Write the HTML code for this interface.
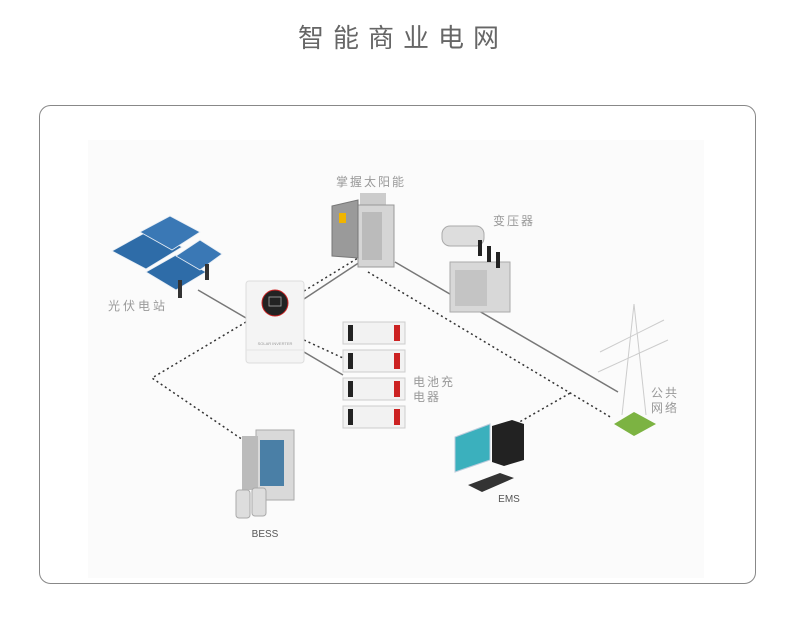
<!DOCTYPE html>
<html><head><meta charset="utf-8"><style>
body{margin:0;background:#fff;width:800px;height:623px;overflow:hidden;font-family:"Liberation Sans","Noto Sans CJK SC",sans-serif}
</style></head><body>
<svg width="800" height="623" viewBox="0 0 800 623" xmlns="http://www.w3.org/2000/svg" font-family="Liberation Sans, Noto Sans CJK SC, sans-serif">
<text x="403" y="47" text-anchor="middle" font-size="26" fill="#666" letter-spacing="9">智能商业电网</text>
<rect x="39.5" y="105.5" width="716" height="478" rx="11" fill="#fff" stroke="#888"/>
<rect x="88" y="140" width="616" height="438" fill="#fbfbfb"/>
<g stroke="#777" stroke-width="1.5" fill="none">
<line x1="198" y1="290" x2="246" y2="318"/>
<line x1="304" y1="299" x2="360" y2="262"/>
<line x1="304" y1="352" x2="343" y2="375"/>
<line x1="395" y1="262" x2="618" y2="392"/>
</g>
<g stroke="#333" stroke-width="1.5" fill="none" stroke-dasharray="2,3">
<polyline points="304,291 358,258"/>
<polyline points="246,322 152,378 246,442"/>
<polyline points="368,272 612,418"/>
<polyline points="304,340 343,358"/>
<polyline points="516,424 572,392"/>
</g>
<g stroke="#e8eef5" stroke-width="0.8">
<polygon points="112,251 150,230 182,247 146,269" fill="#2e6ca8"/>
<polygon points="140,232 170,216 200,232 172,250" fill="#3a78b5"/>
<polygon points="146,272 176,255 206,272 176,290" fill="#2e6ca8"/>
<polygon points="176,256 200,240 222,254 200,270" fill="#3a78b5"/>
</g>
<rect x="178" y="280" width="4" height="18" fill="#333"/>
<rect x="205" y="264" width="4" height="16" fill="#333"/>
<text x="138" y="310" text-anchor="middle" font-size="12" fill="#999" letter-spacing="3">光伏电站</text>
<rect x="246" y="281" width="58" height="82" rx="3" fill="#f4f4f4" stroke="#ddd"/>
<circle cx="275" cy="303" r="13" fill="#222" stroke="#c22" stroke-width="1"/>
<rect x="269" y="297" width="12" height="9" fill="none" stroke="#aaa" stroke-width="0.8"/>
<text x="275" y="345" text-anchor="middle" font-size="4" fill="#999">SOLAR INVERTER</text>
<line x1="246" y1="350" x2="304" y2="350" stroke="#e4e4e4"/>
<text x="371" y="186" text-anchor="middle" font-size="12" fill="#999" letter-spacing="2">掌握太阳能</text>
<rect x="360" y="193" width="26" height="16" fill="#ccc"/>
<rect x="358" y="205" width="36" height="62" fill="#d5d5d5" stroke="#999"/>
<polygon points="332,206 358,200 358,258 332,256" fill="#9a9a9a" stroke="#777"/>
<rect x="339" y="213" width="7" height="10" fill="#f0b400"/>
<rect x="362" y="212" width="20" height="48" fill="#bbb"/>
<text x="514" y="225" text-anchor="middle" font-size="12" fill="#999" letter-spacing="2">变压器</text>
<rect x="442" y="226" width="42" height="20" rx="8" fill="#ddd" stroke="#aaa"/>
<rect x="450" y="262" width="60" height="50" fill="#d8d8d8" stroke="#aaa"/>
<rect x="455" y="270" width="32" height="36" fill="#c4c4c4"/>
<rect x="478" y="240" width="4" height="16" fill="#222"/>
<rect x="487" y="246" width="4" height="16" fill="#222"/>
<rect x="496" y="252" width="4" height="16" fill="#222"/>
<g fill="#f2f2f2" stroke="#ccc">
<rect x="343" y="322" width="62" height="22"/>
<rect x="343" y="350" width="62" height="22"/>
<rect x="343" y="378" width="62" height="22"/>
<rect x="343" y="406" width="62" height="22"/>
</g>
<g fill="#c22"><rect x="394" y="325" width="6" height="16"/><rect x="394" y="353" width="6" height="16"/><rect x="394" y="381" width="6" height="16"/><rect x="394" y="409" width="6" height="16"/></g>
<g fill="#222"><rect x="348" y="325" width="5" height="16"/><rect x="348" y="353" width="5" height="16"/><rect x="348" y="381" width="5" height="16"/><rect x="348" y="409" width="5" height="16"/></g>
<text x="413" y="386" font-size="12" fill="#999" letter-spacing="2">电池充</text>
<text x="413" y="401" font-size="12" fill="#999" letter-spacing="2">电器</text>
<g stroke="#ccc" fill="none" stroke-width="1">
<line x1="634" y1="304" x2="622" y2="415"/><line x1="634" y1="304" x2="646" y2="415"/>
<line x1="600" y1="352" x2="664" y2="320"/><line x1="598" y1="372" x2="668" y2="340"/>
</g>
<polygon points="614,424 634,412 656,424 634,436" fill="#7cb342"/>
<text x="651" y="397" font-size="12" fill="#999" letter-spacing="2">公共</text>
<text x="651" y="412" font-size="12" fill="#999" letter-spacing="2">网络</text>
<polygon points="455,437 490,424 490,460 455,472" fill="#3bb0bd" stroke="#bcd"/>
<polygon points="492,426 512,420 524,424 524,460 504,466 492,462" fill="#222"/>
<polygon points="468,485 500,473 514,478 482,492" fill="#333"/>
<text x="509" y="502" text-anchor="middle" font-size="10" fill="#555">EMS</text>
<rect x="256" y="430" width="38" height="70" fill="#d9d9d9" stroke="#aaa"/>
<rect x="242" y="436" width="16" height="54" fill="#bbb"/>
<rect x="260" y="440" width="24" height="46" fill="#4a7fa6"/>
<rect x="236" y="490" width="14" height="28" rx="3" fill="#ddd" stroke="#aaa"/>
<rect x="252" y="488" width="14" height="28" rx="3" fill="#ddd" stroke="#aaa"/>
<text x="265" y="537" text-anchor="middle" font-size="10" fill="#555">BESS</text>
</svg>
</body></html>
